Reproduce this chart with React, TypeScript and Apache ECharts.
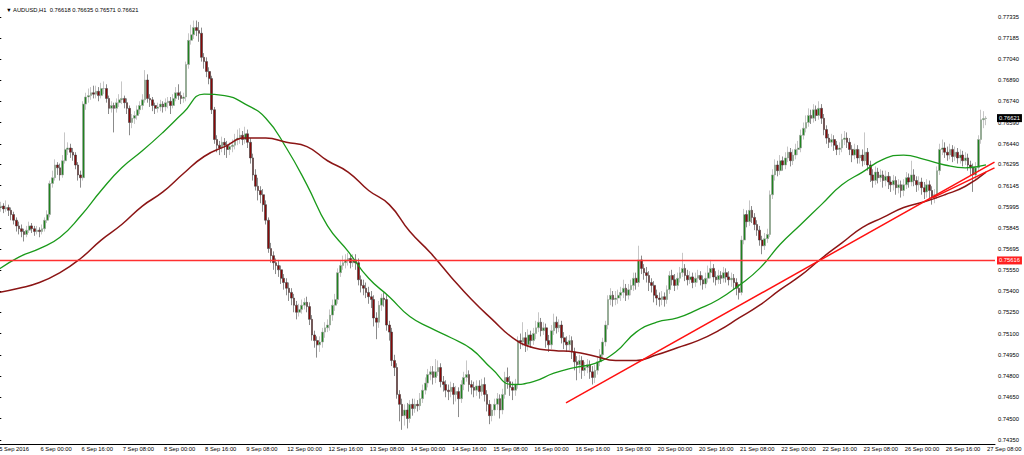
import React, { useEffect, useRef } from "react";
import * as echarts from "echarts";

// Trading days shown (H1 bars from 5 Sep 08:00 to 27 Sep 08:00)
const tradingDays = [5, 6, 7, 8, 9, 12, 13, 14, 15, 16, 19, 20, 21, 22, 23, 26, 27];
const categories: string[] = [];
for (const d of tradingDays) {
  for (let h = 0; h < 24; h++) {
    if (d === 5 && h < 8) continue;
    if (d === 27 && h > 8) continue;
    categories.push(`${d} Sep ${String(h).padStart(2, "0")}:00`);
  }
}
const firstLabel = "5 Sep 2016";
const title = "\u25BC AUDUSD,H1  0.76618 0.76635 0.76571 0.76621";

const yTickLabels = [
  "0.77335", "0.77185", "0.77040", "0.76890", "0.76740", "0.76590", "0.76440",
  "0.76295", "0.76145", "0.75995", "0.75845", "0.75695", "0.75550", "0.75400",
  "0.75250", "0.75100", "0.74950", "0.74800", "0.74650", "0.74500", "0.74350",
];

const firstOpen = 0.7596;
const closes = [
  0.7599, 0.7600, 0.7598, 0.7599, 0.7597, 0.7594, 0.7590, 0.7586, 0.7584, 0.7582,
  0.7580, 0.7583, 0.7586, 0.7584, 0.7582, 0.7583, 0.7582, 0.7584, 0.7590, 0.7594,
  0.7616, 0.7620, 0.7629, 0.7627, 0.7622, 0.7632, 0.7640, 0.7641, 0.7638, 0.7636,
  0.7629, 0.7622, 0.7620, 0.7672, 0.7677, 0.7678, 0.7680, 0.7679, 0.7681, 0.7678,
  0.7683, 0.7683, 0.7676, 0.7669, 0.7671, 0.7669, 0.7673, 0.7675, 0.7676, 0.7673,
  0.7669, 0.7659, 0.7662, 0.7664, 0.7668, 0.7671, 0.7675, 0.7689, 0.7676, 0.7675,
  0.7671, 0.7669, 0.7670, 0.7672, 0.7670, 0.7673, 0.7674, 0.7671, 0.7676, 0.7680,
  0.7678, 0.7676, 0.7677, 0.7700, 0.7717, 0.7721, 0.7726, 0.7724, 0.7722, 0.7705,
  0.7702, 0.7695, 0.7690, 0.7668, 0.7647, 0.7643, 0.7641, 0.7645, 0.7643, 0.7640,
  0.7642, 0.7643, 0.7647, 0.7648, 0.7650, 0.7647, 0.7651, 0.7645, 0.7634, 0.7622,
  0.7614, 0.7611, 0.7608, 0.7601, 0.7590, 0.7570, 0.7565, 0.7560, 0.7558, 0.7555,
  0.7549, 0.7546, 0.7542, 0.7539, 0.7535, 0.7530, 0.7525, 0.7527, 0.7530, 0.7532,
  0.7529, 0.7520, 0.7509, 0.7505, 0.7502, 0.7504, 0.7511, 0.7514, 0.7516, 0.7523,
  0.7530, 0.7534, 0.7553, 0.7558, 0.7560, 0.7562, 0.7563, 0.7560, 0.7562, 0.7560,
  0.7548, 0.7544, 0.7542, 0.7539, 0.7536, 0.7534, 0.7521, 0.7518, 0.7530, 0.7535,
  0.7534, 0.7516, 0.7511, 0.7491, 0.7486, 0.7467, 0.7460, 0.7452, 0.7456, 0.7450,
  0.7460, 0.7457, 0.7460, 0.7459, 0.7464, 0.7470, 0.7475, 0.7481, 0.7483, 0.7479,
  0.7483, 0.7486, 0.7476, 0.7474, 0.7470, 0.7469, 0.7472, 0.7467, 0.7469, 0.7464,
  0.7474, 0.7479, 0.7481, 0.7474, 0.7472, 0.7470, 0.7473, 0.7469, 0.7474, 0.7467,
  0.7460, 0.7452, 0.7456, 0.7460, 0.7464, 0.7456, 0.7467, 0.7479, 0.7476, 0.7472,
  0.7470, 0.7474, 0.7505, 0.7504, 0.7507, 0.7502, 0.7509, 0.7505, 0.7510, 0.7514,
  0.7518, 0.7512, 0.7514, 0.7505, 0.7502, 0.7512, 0.7518, 0.7514, 0.7516, 0.7507,
  0.7504, 0.7502, 0.7505, 0.7497, 0.7490, 0.7488, 0.7491, 0.7484, 0.7486, 0.7488,
  0.7483, 0.7479, 0.7484, 0.7490, 0.7495, 0.7504, 0.7516, 0.7534, 0.7537, 0.7534,
  0.7535, 0.7537, 0.7539, 0.7542, 0.7537, 0.7541, 0.7544, 0.7549, 0.7546, 0.7562,
  0.7556, 0.7553, 0.7551, 0.7546, 0.7544, 0.7537, 0.7535, 0.7534, 0.7536, 0.7534,
  0.7541, 0.7551, 0.7548, 0.7544, 0.7549, 0.7553, 0.7556, 0.7551, 0.7548, 0.7550,
  0.7546, 0.7549, 0.7551, 0.7548, 0.7545, 0.7549, 0.7553, 0.7556, 0.7550, 0.7548,
  0.7551, 0.7549, 0.7553, 0.7550, 0.7548, 0.7549, 0.7546, 0.7542, 0.7539, 0.7576,
  0.7594, 0.7589, 0.7597, 0.7592, 0.7587, 0.7583, 0.7576, 0.7572, 0.7577, 0.7580,
  0.7608, 0.7622, 0.7629, 0.7625, 0.7632, 0.7629, 0.7634, 0.7638, 0.7632, 0.7636,
  0.7640, 0.7641, 0.7650, 0.7655, 0.7659, 0.7664, 0.7662, 0.7668, 0.7664, 0.7669,
  0.7662, 0.7654, 0.7648, 0.7645, 0.7647, 0.7643, 0.7640, 0.7641, 0.7647, 0.7648,
  0.7645, 0.7640, 0.7636, 0.7640, 0.7634, 0.7636, 0.7632, 0.7638, 0.7629, 0.7622,
  0.7618, 0.7624, 0.7620, 0.7622, 0.7618, 0.7621, 0.7617, 0.7615, 0.7618, 0.7613,
  0.7615, 0.7611, 0.7615, 0.7620, 0.7617, 0.7622, 0.7618, 0.7615, 0.7617, 0.7613,
  0.7610, 0.7615, 0.7611, 0.7606, 0.7608, 0.7625, 0.7640, 0.7641, 0.7638, 0.7636,
  0.7640, 0.7635, 0.7638, 0.7634, 0.7636, 0.7632, 0.7634, 0.7629, 0.7627, 0.7622,
  0.7627, 0.7647, 0.7661, 0.76618, 0.76621,
];
const highs = [
  0.7604, 0.7603, 0.7602, 0.7604, 0.7601, 0.7599, 0.7596, 0.7592, 0.7589, 0.7587,
  0.7584, 0.7586, 0.7589, 0.7588, 0.7586, 0.7586, 0.7585, 0.7587, 0.7592, 0.7597,
  0.7618, 0.7625, 0.7633, 0.7631, 0.7630, 0.7636, 0.7652, 0.7645, 0.7644, 0.7641,
  0.7638, 0.7631, 0.7625, 0.7674, 0.7680, 0.7683, 0.7684, 0.7685, 0.7685, 0.7684,
  0.7687, 0.7688, 0.7686, 0.7678, 0.7674, 0.7673, 0.7676, 0.7679, 0.7688, 0.7678,
  0.7676, 0.7671, 0.7665, 0.7667, 0.7671, 0.7674, 0.7679, 0.7696, 0.7693, 0.7679,
  0.7677, 0.7673, 0.7673, 0.7675, 0.7674, 0.7676, 0.7677, 0.7677, 0.7679, 0.7684,
  0.7686, 0.7681, 0.7680, 0.7702, 0.7722, 0.7728, 0.7731, 0.7731, 0.7730, 0.7726,
  0.7708, 0.7705, 0.7698, 0.7692, 0.7670, 0.7650, 0.7646, 0.7649, 0.7648, 0.7646,
  0.7645, 0.7647, 0.7651, 0.7654, 0.7655, 0.7653, 0.7656, 0.7654, 0.7648, 0.7637,
  0.7626, 0.7620, 0.7614, 0.7612, 0.7604, 0.7592, 0.7574, 0.7568, 0.7563, 0.7562,
  0.7558, 0.7552, 0.7549, 0.7546, 0.7542, 0.7538, 0.7533, 0.7531, 0.7534, 0.7535,
  0.7536, 0.7532, 0.7523, 0.7512, 0.7508, 0.7508, 0.7514, 0.7518, 0.7520, 0.7527,
  0.7534, 0.7538, 0.7556, 0.7562, 0.7565, 0.7566, 0.7567, 0.7566, 0.7566, 0.7566,
  0.7563, 0.7551, 0.7548, 0.7546, 0.7543, 0.7540, 0.7537, 0.7525, 0.7533, 0.7538,
  0.7539, 0.7537, 0.7519, 0.7514, 0.7495, 0.7489, 0.7470, 0.7464, 0.7460, 0.7461,
  0.7463, 0.7464, 0.7464, 0.7463, 0.7468, 0.7474, 0.7479, 0.7485, 0.7487, 0.7487,
  0.7492, 0.7491, 0.7489, 0.7480, 0.7477, 0.7474, 0.7476, 0.7475, 0.7473, 0.7472,
  0.7477, 0.7483, 0.7491, 0.7484, 0.7477, 0.7476, 0.7477, 0.7477, 0.7478, 0.7479,
  0.7470, 0.7463, 0.7460, 0.7464, 0.7468, 0.7467, 0.7471, 0.7483, 0.7486, 0.7480,
  0.7476, 0.7478, 0.7508, 0.7510, 0.7518, 0.7511, 0.7513, 0.7512, 0.7514, 0.7519,
  0.7525, 0.7521, 0.7518, 0.7517, 0.7509, 0.7516, 0.7524, 0.7522, 0.7520, 0.7519,
  0.7511, 0.7508, 0.7509, 0.7508, 0.7500, 0.7494, 0.7495, 0.7494, 0.7490, 0.7492,
  0.7491, 0.7487, 0.7488, 0.7494, 0.7499, 0.7507, 0.7519, 0.7537, 0.7542, 0.7540,
  0.7540, 0.7541, 0.7543, 0.7548, 0.7545, 0.7545, 0.7548, 0.7553, 0.7553, 0.7572,
  0.7565, 0.7559, 0.7557, 0.7554, 0.7549, 0.7547, 0.7541, 0.7539, 0.7540, 0.7539,
  0.7544, 0.7554, 0.7555, 0.7552, 0.7553, 0.7557, 0.7567, 0.7559, 0.7555, 0.7554,
  0.7553, 0.7553, 0.7555, 0.7554, 0.7551, 0.7553, 0.7558, 0.7562, 0.7559, 0.7554,
  0.7555, 0.7554, 0.7557, 0.7556, 0.7554, 0.7553, 0.7552, 0.7549, 0.7545, 0.7579,
  0.7598, 0.7597, 0.7604, 0.7600, 0.7595, 0.7590, 0.7586, 0.7579, 0.7581, 0.7584,
  0.7611, 0.7626, 0.7633, 0.7632, 0.7636, 0.7635, 0.7638, 0.7642, 0.7641, 0.7640,
  0.7644, 0.7646, 0.7654, 0.7659, 0.7664, 0.7669, 0.7668, 0.7672, 0.7671, 0.7674,
  0.7672, 0.7665, 0.7657, 0.7651, 0.7651, 0.7650, 0.7646, 0.7645, 0.7651, 0.7653,
  0.7652, 0.7648, 0.7643, 0.7644, 0.7643, 0.7640, 0.7640, 0.7652, 0.7641, 0.7632,
  0.7626, 0.7628, 0.7627, 0.7626, 0.7625, 0.7625, 0.7624, 0.7621, 0.7622, 0.7621,
  0.7619, 0.7618, 0.7619, 0.7624, 0.7623, 0.7632, 0.7626, 0.7621, 0.7621, 0.7620,
  0.7617, 0.7619, 0.7618, 0.7614, 0.7612, 0.7628, 0.7644, 0.7647, 0.7645, 0.7642,
  0.7644, 0.7643, 0.7642, 0.7641, 0.7640, 0.7639, 0.7638, 0.7637, 0.7632, 0.7630,
  0.7631, 0.7650, 0.7668, 0.7667, 0.76635,
];
const lows = [
  0.7594, 0.7596, 0.7595, 0.7596, 0.7593, 0.7590, 0.7587, 0.7582, 0.7580, 0.7578,
  0.7575, 0.7578, 0.7581, 0.7581, 0.7579, 0.7580, 0.7578, 0.7580, 0.7582, 0.7588,
  0.7592, 0.7613, 0.7618, 0.7622, 0.7618, 0.7620, 0.7630, 0.7636, 0.7634, 0.7632,
  0.7626, 0.7618, 0.7613, 0.7618, 0.7668, 0.7673, 0.7675, 0.7676, 0.7676, 0.7674,
  0.7676, 0.7679, 0.7673, 0.7665, 0.7666, 0.7652, 0.7666, 0.7670, 0.7672, 0.7669,
  0.7665, 0.7650, 0.7655, 0.7658, 0.7661, 0.7665, 0.7668, 0.7673, 0.7673, 0.7670,
  0.7667, 0.7665, 0.7666, 0.7667, 0.7666, 0.7667, 0.7669, 0.7665, 0.7669, 0.7674,
  0.7675, 0.7672, 0.7673, 0.7674, 0.7697, 0.7714, 0.7718, 0.7720, 0.7716, 0.7702,
  0.7697, 0.7691, 0.7686, 0.7665, 0.7644, 0.7638, 0.7636, 0.7638, 0.7636, 0.7634,
  0.7636, 0.7638, 0.7640, 0.7643, 0.7644, 0.7643, 0.7644, 0.7641, 0.7630, 0.7618,
  0.7611, 0.7604, 0.7602, 0.7596, 0.7587, 0.7567, 0.7560, 0.7555, 0.7552, 0.7550,
  0.7545, 0.7541, 0.7537, 0.7533, 0.7530, 0.7525, 0.7520, 0.7522, 0.7524, 0.7527,
  0.7525, 0.7516, 0.7505, 0.7500, 0.7493, 0.7497, 0.7500, 0.7507, 0.7511, 0.7512,
  0.7519, 0.7526, 0.7531, 0.7550, 0.7555, 0.7556, 0.7558, 0.7556, 0.7557, 0.7555,
  0.7544, 0.7539, 0.7537, 0.7535, 0.7531, 0.7528, 0.7515, 0.7506, 0.7514, 0.7526,
  0.7529, 0.7512, 0.7505, 0.7487, 0.7480, 0.7464, 0.7448, 0.7442, 0.7445, 0.7443,
  0.7447, 0.7452, 0.7454, 0.7455, 0.7456, 0.7461, 0.7467, 0.7472, 0.7477, 0.7474,
  0.7475, 0.7480, 0.7472, 0.7469, 0.7465, 0.7463, 0.7465, 0.7460, 0.7462, 0.7451,
  0.7461, 0.7470, 0.7476, 0.7469, 0.7467, 0.7465, 0.7466, 0.7464, 0.7466, 0.7462,
  0.7455, 0.7446, 0.7448, 0.7452, 0.7456, 0.7450, 0.7453, 0.7464, 0.7471, 0.7466,
  0.7463, 0.7466, 0.7471, 0.7499, 0.7501, 0.7497, 0.7498, 0.7500, 0.7502, 0.7506,
  0.7511, 0.7508, 0.7509, 0.7500, 0.7497, 0.7499, 0.7509, 0.7510, 0.7511, 0.7503,
  0.7499, 0.7497, 0.7498, 0.7492, 0.7484, 0.7477, 0.7482, 0.7478, 0.7480, 0.7482,
  0.7478, 0.7474, 0.7475, 0.7481, 0.7487, 0.7492, 0.7501, 0.7513, 0.7530, 0.7529,
  0.7530, 0.7531, 0.7533, 0.7535, 0.7533, 0.7534, 0.7537, 0.7540, 0.7541, 0.7543,
  0.7552, 0.7548, 0.7546, 0.7540, 0.7539, 0.7532, 0.7530, 0.7529, 0.7530, 0.7529,
  0.7531, 0.7538, 0.7544, 0.7540, 0.7541, 0.7546, 0.7550, 0.7547, 0.7544, 0.7545,
  0.7542, 0.7543, 0.7546, 0.7544, 0.7541, 0.7542, 0.7546, 0.7549, 0.7546, 0.7544,
  0.7545, 0.7545, 0.7546, 0.7546, 0.7544, 0.7543, 0.7541, 0.7537, 0.7534, 0.7537,
  0.7573, 0.7585, 0.7586, 0.7588, 0.7583, 0.7579, 0.7572, 0.7566, 0.7569, 0.7574,
  0.7578, 0.7605, 0.7618, 0.7621, 0.7622, 0.7625, 0.7626, 0.7631, 0.7628, 0.7629,
  0.7633, 0.7636, 0.7638, 0.7647, 0.7652, 0.7656, 0.7658, 0.7659, 0.7660, 0.7661,
  0.7658, 0.7650, 0.7644, 0.7641, 0.7642, 0.7639, 0.7636, 0.7636, 0.7638, 0.7643,
  0.7641, 0.7636, 0.7631, 0.7633, 0.7630, 0.7630, 0.7628, 0.7629, 0.7625, 0.7617,
  0.7613, 0.7615, 0.7616, 0.7617, 0.7613, 0.7614, 0.7612, 0.7610, 0.7611, 0.7608,
  0.7609, 0.7606, 0.7607, 0.7612, 0.7613, 0.7614, 0.7614, 0.7610, 0.7611, 0.7608,
  0.7605, 0.7606, 0.7605, 0.7601, 0.7602, 0.7605, 0.7622, 0.7636, 0.7634, 0.7632,
  0.7633, 0.7631, 0.7632, 0.7630, 0.7630, 0.7628, 0.7629, 0.7625, 0.7622, 0.7610,
  0.7618, 0.7624, 0.7644, 0.7655, 0.76571,
];

// Moving averages, read every 8 bars
const maStep = 8;
const maFast = [
  0.7555, 0.7564, 0.7570, 0.7578, 0.7593, 0.7611, 0.7627, 0.7639, 0.7652, 0.7666,
  0.7679, 0.7678, 0.7672, 0.7662, 0.7641, 0.7615, 0.7586, 0.7568, 0.7549, 0.7536,
  0.7522, 0.7514, 0.7507, 0.7499, 0.7485, 0.7474, 0.7476, 0.7482, 0.7486, 0.7489,
  0.7497, 0.7511, 0.7518, 0.7521, 0.7527, 0.7534, 0.7544, 0.7556, 0.7573, 0.7587,
  0.7601, 0.7615, 0.7624, 0.7633, 0.7636, 0.7633, 0.7629, 0.7627, 0.7629,
];
const maSlow = [
  0.7539, 0.7542, 0.7546, 0.7553, 0.7563, 0.7576, 0.7587, 0.7600, 0.7610, 0.7623,
  0.7635, 0.7642, 0.7648, 0.7648, 0.7645, 0.7642, 0.7632, 0.7624, 0.7611, 0.7601,
  0.7582, 0.7567, 0.7550, 0.7534, 0.7520, 0.7507, 0.7500, 0.7498, 0.7497, 0.7494,
  0.7491, 0.7491, 0.7495, 0.7500, 0.7505, 0.7512, 0.7521, 0.7530, 0.7541, 0.7551,
  0.7563, 0.7574, 0.7585, 0.7592, 0.7599, 0.7603, 0.7608, 0.7614, 0.7624,
];

// Trend lines: [bar position, price]
const trendLine1 = [[220.7, 0.7461], [387.3, 0.7631]];
const trendLine2 = [[363.4, 0.7606], [387.3, 0.7627]];
const supportLevel = 0.75616;
const lastPrice = 0.76621;

const FONT = "Liberation Sans";
const FS = 5.8;

export default function App() {
  const ref = useRef<HTMLDivElement>(null);
  useEffect(() => {
    if (!ref.current) return;
    const chart = echarts.init(ref.current, null, { renderer: "svg" });
    const extra = 3;
    const xCats = [...categories, ...Array(extra).fill("")];
    const N = xCats.length;
    const candleData: any[] = closes.map((c, i) => {
      const o = i === 0 ? firstOpen : closes[i - 1];
      return [o, c, lows[i], highs[i]];
    });
    const showIdx = (i: number) => i % 16 === 0 && i < categories.length;
    const maPoints = (arr: number[]) => arr.map((v, k) => [k * maStep, v]);
    const tickVals = yTickLabels.map(Number);
    const levelLine = (v: number) => [[-0.5, v], [N - 0.5, v]];
    const tag = (bg: string) => ({
      show: true,
      distance: 2,
      backgroundColor: bg,
      color: "#fff",
      fontSize: FS,
      fontFamily: FONT,
      padding: [1, 2, 1, 2],
      align: "left",
      verticalAlign: "middle",
    });

    chart.setOption({
      animation: false,
      backgroundColor: "#ffffff",
      title: {
        text: title,
        left: 1,
        top: 2,
        textStyle: { fontSize: FS, fontWeight: "normal", color: "#000", fontFamily: FONT },
      },
      grid: { left: -3, right: 29, top: 0, bottom: 11, outerBoundsMode: "none", containLabel: false },
      xAxis: [
        {
          type: "category",
          data: xCats,
          boundaryGap: true,
          axisLine: { lineStyle: { color: "#000", width: 1 } },
          axisTick: { alignWithLabel: true, interval: (i: number) => showIdx(i), length: 3, lineStyle: { color: "#000" } },
          axisLabel: {
            interval: (i: number) => showIdx(i),
            formatter: (v: string, i: number) => (i === 0 ? firstLabel : v),
            align: "left",
            fontSize: FS,
            fontFamily: FONT,
            color: "#000",
            margin: 2,
            padding: [0, 0, 0, 1],
            hideOverlap: false,
          },
          splitLine: { show: false },
        },
        { type: "value", min: -0.5, max: N - 0.5, show: false },
      ],
      yAxis: {
        type: "value",
        position: "right",
        min: 0.7432,
        max: 0.77455,
        axisLine: { show: true, lineStyle: { color: "#000", width: 1 } },
        axisTick: { show: true, length: 3, customValues: tickVals, lineStyle: { color: "#000" } },
        axisLabel: {
          customValues: tickVals,
          formatter: (v: number) => v.toFixed(5),
          fontSize: FS,
          fontFamily: FONT,
          color: "#000",
          margin: 3,
        },
        splitLine: { show: false },
      },
      series: [
        {
          type: "candlestick",
          data: candleData,
          barWidth: 2.2,
          itemStyle: {
            color: "#1f821f",
            color0: "#880808",
            borderColor: "#a0a0a0",
            borderColor0: "#3c3c3c",
            borderWidth: 0.6,
          },
          z: 3,
        },
        {
          type: "line",
          xAxisIndex: 1,
          data: levelLine(supportLevel),
          showSymbol: false,
          silent: true,
          lineStyle: { color: "#ff3030", width: 1.5 },
          endLabel: { ...tag("#ff2020"), formatter: () => supportLevel.toFixed(5) },
          z: 6,
        },
        {
          type: "line",
          xAxisIndex: 1,
          data: levelLine(lastPrice),
          showSymbol: false,
          silent: true,
          lineStyle: { opacity: 0 },
          endLabel: { ...tag("#000000"), formatter: () => lastPrice.toFixed(5) },
          z: 6,
        },
        {
          type: "line",
          xAxisIndex: 1,
          data: maPoints(maFast),
          smooth: 0.5,
          showSymbol: false,
          lineStyle: { color: "#1a9a1a", width: 1.3 },
          z: 4,
        },
        {
          type: "line",
          xAxisIndex: 1,
          data: maPoints(maSlow),
          smooth: 0.5,
          showSymbol: false,
          lineStyle: { color: "#8b1515", width: 1.5 },
          z: 4,
        },
        {
          type: "line",
          xAxisIndex: 1,
          data: trendLine1,
          showSymbol: false,
          lineStyle: { color: "#ff1010", width: 1.5 },
          z: 5,
        },
        {
          type: "line",
          xAxisIndex: 1,
          data: trendLine2,
          showSymbol: false,
          lineStyle: { color: "#ff1010", width: 1.5 },
          z: 5,
        },
      ],
    });
    return () => chart.dispose();
  }, []);
  return (
    <div
      ref={ref}
      style={{ position: "fixed", left: 0, top: 0, width: 1024, height: 455, background: "#fff" }}
    />
  );
}
